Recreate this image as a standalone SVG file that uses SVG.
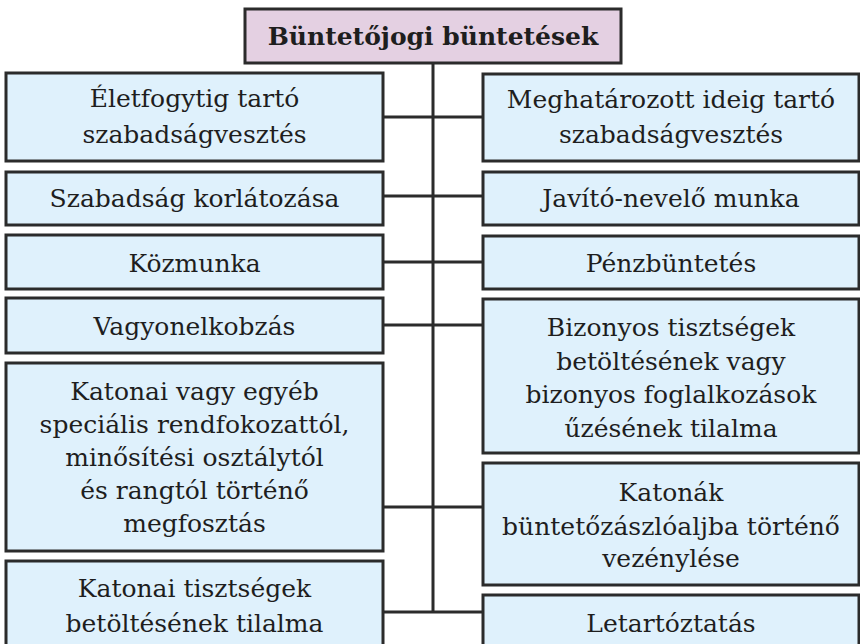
<svg xmlns="http://www.w3.org/2000/svg" width="860" height="644" viewBox="0 0 860 644">
<style>
.box{fill:#dff1fc;stroke:#2b2b2b;stroke-width:3}
.title{fill:#e4d0e2;stroke:#2b2b2b;stroke-width:3}
.t{font-family:"DejaVu Serif",serif;font-size:25px;fill:#1e1e1e;text-anchor:middle}
.tb{font-family:"DejaVu Serif",serif;font-size:25px;font-weight:bold;fill:#1e1e1e;text-anchor:middle}
.c{stroke:#2b2b2b;stroke-width:3;fill:none}
</style>
<rect width="860" height="644" fill="#ffffff"/>
<g id="connectors">
<line class="c" x1="433" y1="63" x2="433" y2="613"/>
<line class="c" x1="383" y1="117" x2="483" y2="117"/>
<line class="c" x1="383" y1="196" x2="483" y2="196"/>
<line class="c" x1="383" y1="262" x2="483" y2="262"/>
<line class="c" x1="383" y1="325" x2="483" y2="325"/>
<line class="c" x1="383" y1="507" x2="483" y2="507"/>
<line class="c" x1="383" y1="612" x2="483" y2="612"/>
</g>
<g id="root">
<rect class="title" x="245" y="9" width="376" height="54"/>
<text class="tb" x="433" y="45">Büntetőjogi büntetések</text>
</g>
<g id="l1">
<rect class="box" x="6" y="73" width="377" height="88"/>
<text class="t" x="194.5" y="107">Életfogytig tartó</text>
<text class="t" x="194.5" y="143">szabadságvesztés</text>
</g>
<g id="l2">
<rect class="box" x="6" y="172" width="377" height="53"/>
<text class="t" x="194.5" y="207">Szabadság korlátozása</text>
</g>
<g id="l3">
<rect class="box" x="6" y="235" width="377" height="54"/>
<text class="t" x="194.5" y="272">Közmunka</text>
</g>
<g id="l4">
<rect class="box" x="6" y="298" width="377" height="55"/>
<text class="t" x="194.5" y="335">Vagyonelkobzás</text>
</g>
<g id="l5">
<rect class="box" x="6" y="363" width="377" height="188"/>
<text class="t" x="194.5" y="400">Katonai vagy egyéb</text>
<text class="t" x="194.5" y="433">speciális rendfokozattól,</text>
<text class="t" x="194.5" y="466">minősítési osztálytól</text>
<text class="t" x="194.5" y="499">és rangtól történő</text>
<text class="t" x="194.5" y="532">megfosztás</text>
</g>
<g id="l6">
<rect class="box" x="6" y="561" width="377" height="100"/>
<text class="t" x="194.5" y="597">Katonai tisztségek</text>
<text class="t" x="194.5" y="632">betöltésének tilalma</text>
</g>
<g id="r1">
<rect class="box" x="483" y="74" width="376" height="87"/>
<text class="t" x="671" y="108">Meghatározott ideig tartó</text>
<text class="t" x="671" y="143">szabadságvesztés</text>
</g>
<g id="r2">
<rect class="box" x="483" y="172" width="376" height="53"/>
<text class="t" x="671" y="207">Javító-nevelő munka</text>
</g>
<g id="r3">
<rect class="box" x="483" y="236" width="376" height="53"/>
<text class="t" x="671" y="272">Pénzbüntetés</text>
</g>
<g id="r4">
<rect class="box" x="483" y="299" width="376" height="154"/>
<text class="t" x="671" y="336">Bizonyos tisztségek</text>
<text class="t" x="671" y="370">betöltésének vagy</text>
<text class="t" x="671" y="403">bizonyos foglalkozások</text>
<text class="t" x="671" y="437">űzésének tilalma</text>
</g>
<g id="r5">
<rect class="box" x="483" y="463" width="376" height="122"/>
<text class="t" x="671" y="501">Katonák</text>
<text class="t" x="671" y="535">büntetőzászlóaljba történő</text>
<text class="t" x="671" y="567">vezénylése</text>
</g>
<g id="r6">
<rect class="box" x="483" y="595" width="376" height="66"/>
<text class="t" x="671" y="632">Letartóztatás</text>
</g>
</svg>
